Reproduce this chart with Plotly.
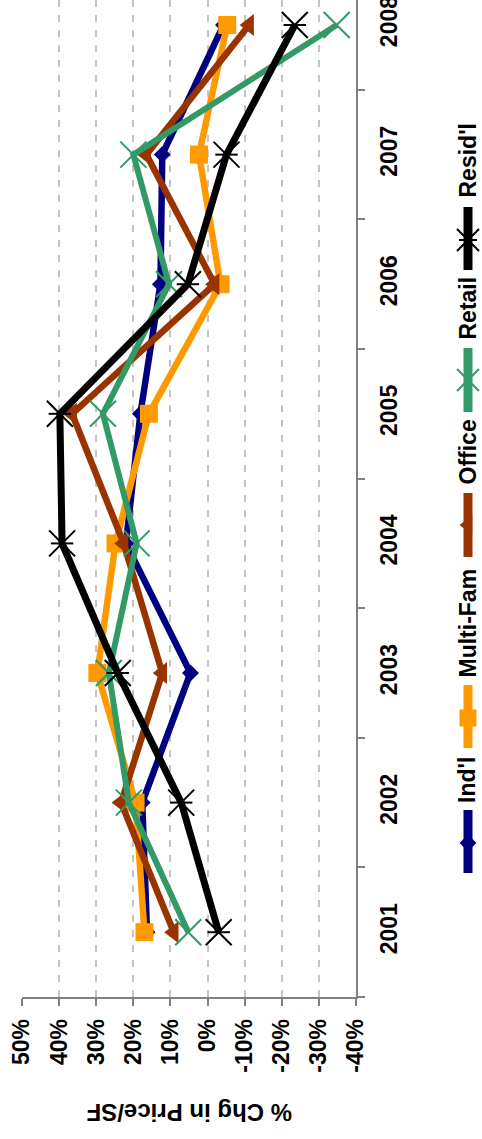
import plotly.graph_objects as go

years = ["2001", "2002", "2003", "2004", "2005", "2006", "2007", "2008"]
indl = [16.3, 17.6, 4.6, 22.0, 18.1, 12.7, 12.2, -4.3]
multifam = [17.0, 19.4, 29.7, 24.8, 15.8, -3.5, 2.3, -5.3]
office = [9.1, 23.3, 12.2, 22.6, 36.5, -1.9, 16.5, -11.2]
retail = [5.2, 21.2, 26.6, 19.1, 28.2, 10.4, 20.0, -34.8]
resid = [-3.0, 7.1, 24.2, 39.2, 39.8, 5.3, -5.1, -23.5]
value_ticks = [50, 40, 30, 20, 10, 0, -10, -20, -30, -40]
series_names = ["Ind'l", "Multi-Fam", "Office", "Retail", "Resid'l"]

W, H = 482, 1139
FONT = "Liberation Sans, Arial, sans-serif"
GRAY = "#808080"

colors = ["#000080", "#FF9900", "#993300", "#339966", "#000000"]
symbols = ["diamond", "square", "triangle-left", "x-thin-open", "x-thin-open"]
sizes = [13, 18, 19, 26, 26]
widths = [6.5, 6.5, 6.5, 6, 7]
series = [indl, multifam, office, retail, resid]

fig = go.Figure()
for name, vals, col, sym, sz, lw in zip(series_names, series, colors, symbols, sizes, widths):
    open_sym = sym.endswith("open")
    fig.add_trace(go.Scatter(
        x=vals, y=years, mode="lines+markers", name=name,
        line=dict(color=col, width=lw),
        marker=dict(symbol=sym, size=sz, color=col,
                    line=dict(color=col, width=2 if open_sym else 0)),
        showlegend=False, cliponaxis=False,
    ))
# star marker for Resid'l: add horizontal bar (rotated Excel star)
fig.add_trace(go.Scatter(
    x=resid, y=years, mode="markers",
    marker=dict(symbol="line-ew-open", size=16, color="#000000",
                line=dict(color="#000000", width=2)),
    showlegend=False, cliponaxis=False,
))

# ---- manual rotated legend ----
leg_x = 468
leg_half = 4.5
leg_items = [  # (series index, symbol bottom, symbol top, marker y, text bottom)
    (0, 873, 810, 843, 805),
    (1, 748, 685, 718, 680),
    (2, 557, 493, 525, 487),
    (3, 412, 348, 380, 342),
    (4, 270, 207, 240, 200),
]
leg_marker_sizes = [13, 17, 17, 22, 22]
for idx, yb, yt, ym, ytxt in leg_items:
    col = colors[idx]
    fig.add_shape(
        type="rect", xref="paper", yref="paper",
        x0=(leg_x - leg_half) / W, x1=(leg_x + leg_half) / W,
        y0=1 - yb / H, y1=1 - yt / H,
        fillcolor=col, line=dict(width=0), layer="above",
    )
    sym = symbols[idx]
    fig.add_trace(go.Scatter(
        x=[leg_x], y=[ym], mode="markers", xaxis="x2", yaxis="y2",
        marker=dict(symbol=sym, size=leg_marker_sizes[idx], color=col,
                    line=dict(color=col, width=2 if sym.endswith("open") else 0)),
        showlegend=False, hoverinfo="skip", cliponaxis=False,
    ))
    if idx == 4:
        fig.add_trace(go.Scatter(
            x=[leg_x], y=[ym], mode="markers", xaxis="x2", yaxis="y2",
            marker=dict(symbol="line-ew-open", size=13, color=col,
                        line=dict(color=col, width=2)),
            showlegend=False, hoverinfo="skip", cliponaxis=False,
        ))
    fig.add_annotation(
        x=leg_x - 1, y=ytxt, xref="x2", yref="y2", text=series_names[idx],
        textangle=-90, showarrow=False, xanchor="center", yanchor="bottom",
        font=dict(family=FONT, size=23, color="#000000", weight="bold"),
    )

# axis title (upside down)
fig.add_annotation(
    x=190, y=1113, xref="x2", yref="y2", text="% Chg in Price/SF",
    textangle=180, showarrow=False, xanchor="center", yanchor="middle",
    font=dict(family=FONT, size=24, color="#000000", weight="bold"),
)

plot_left, plot_right, plot_bottom = 22, 356, 997
fig.update_layout(
    template="none",
    width=W, height=H,
    margin=dict(l=0, r=0, t=0, b=0),
    paper_bgcolor="white", plot_bgcolor="rgba(0,0,0,0)",
    showlegend=False,
    xaxis=dict(
        domain=[plot_left / W, plot_right / W],
        range=[50, -40], autorange=False,
        tickvals=value_ticks, ticktext=[f"{v}%" for v in value_ticks],
        tickangle=-90, ticks="outside", ticklen=7, tickcolor=GRAY, tickwidth=1.5,
        ticklabelstandoff=4,
        showline=True, linecolor=GRAY, linewidth=1.5,
        showgrid=True, gridcolor="#C4C4C4", griddash="7px,8px", gridwidth=1.5,
        zeroline=False,
        tickfont=dict(family=FONT, size=23, color="#000000", weight="bold"),
        anchor="y",
    ),
    yaxis=dict(
        domain=[(H - plot_bottom) / H, 1],
        type="category", categoryorder="array", categoryarray=years,
        range=[-0.5, 7.193], autorange=False,
        side="right", tickson="boundaries",
        ticks="outside", ticklen=7, tickcolor=GRAY, tickwidth=1.5,
        tickangle=-90, ticklabelstandoff=12,
        showline=True, linecolor=GRAY, linewidth=1.5,
        showgrid=False, zeroline=False,
        tickfont=dict(family=FONT, size=23, color="#000000", weight="bold"),
        anchor="x",
    ),
    xaxis2=dict(domain=[0, 1], range=[0, W], visible=False, anchor="y2"),
    yaxis2=dict(domain=[0, 1], range=[H, 0], visible=False, anchor="x2"),
)

fig.write_html(
    "out.html",
    config={"displayModeBar": False},
    post_script="document.body.style.margin='0';document.body.style.overflow='hidden';",
)
